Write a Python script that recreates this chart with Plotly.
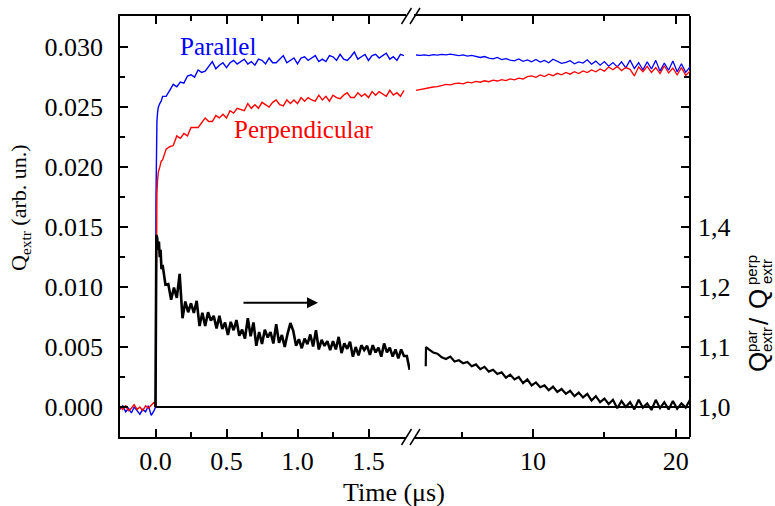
import plotly.graph_objects as go

# ---------------- data ----------------
# left (linear 0..1.8 us) segment
T_PRE = [-0.25, -0.23, -0.21, -0.19, -0.17, -0.15, -0.13, -0.11, -0.09, -0.07, -0.05, -0.03, -0.01]
BLUE_PRE = [-0.0002, 0.0001, -0.0004, -0.0001, -0.0005, 0.0000, -0.0003, -0.0006, -0.0002, -0.0004, 0.0001, -0.0007, -0.0003]
RED_PRE = [0.0000, -0.0002, 0.0001, -0.0003, -0.0001, 0.0002, -0.0002, 0.0000, -0.0003, 0.0001, -0.0001, 0.0002, 0.0004]

T_LEFT = [0.0, 0.003, 0.006, 0.01, 0.015, 0.02, 0.03, 0.04,
          0.05, 0.075, 0.1, 0.125, 0.15, 0.175, 0.2, 0.225, 0.25, 0.275,
          0.3, 0.325, 0.35, 0.375, 0.4, 0.425, 0.45, 0.475, 0.5, 0.525,
          0.55, 0.575, 0.6, 0.625, 0.65, 0.675, 0.7, 0.725, 0.75, 0.775,
          0.8, 0.825, 0.85, 0.875, 0.9, 0.925, 0.95, 0.975, 1.0, 1.025,
          1.05, 1.075, 1.1, 1.125, 1.15, 1.175, 1.2, 1.225, 1.25, 1.275,
          1.3, 1.325, 1.35, 1.375, 1.4, 1.425, 1.45, 1.475, 1.5, 1.525,
          1.55, 1.575, 1.6, 1.625, 1.65, 1.675, 1.7, 1.725, 1.75]

BLUE_LEFT = [0.0, 0.0170, 0.0225, 0.0238, 0.0246, 0.0250, 0.0253, 0.0255,
             0.0259, 0.0259, 0.0264, 0.0269, 0.0267, 0.0271, 0.0270, 0.0276, 0.0277, 0.0275,
             0.0281, 0.0279, 0.0280, 0.0284, 0.0288, 0.0282, 0.0285, 0.0287, 0.0283, 0.0287,
             0.0289, 0.0286, 0.0288, 0.0290, 0.0286, 0.0288, 0.0285, 0.0290, 0.0289, 0.0286,
             0.0291, 0.0287, 0.0287, 0.0290, 0.0293, 0.0287, 0.0289, 0.0291, 0.0286, 0.0291,
             0.0292, 0.0289, 0.0291, 0.0293, 0.0288, 0.0290, 0.0288, 0.0293, 0.0292, 0.0289,
             0.0294, 0.0290, 0.0289, 0.0292, 0.0296, 0.0290, 0.0292, 0.0294, 0.0289, 0.0293,
             0.0294, 0.0291, 0.0293, 0.0295, 0.0290, 0.0292, 0.0289, 0.0294, 0.0293]

RED_LEFT = [0.0, 0.0100, 0.0150, 0.0178, 0.0190, 0.0196, 0.0200, 0.0205,
            0.0206, 0.0215, 0.0217, 0.0218, 0.0226, 0.0224, 0.0228, 0.0226, 0.0233, 0.0233,
            0.0233, 0.0237, 0.0241, 0.0238, 0.0238, 0.0243, 0.0241, 0.0244, 0.0241, 0.0247,
            0.0245, 0.0249, 0.0248, 0.0247, 0.0253, 0.0249, 0.0252, 0.0249, 0.0254, 0.0252,
            0.0250, 0.0254, 0.0256, 0.0252, 0.0251, 0.0256, 0.0253, 0.0256, 0.0253, 0.0258,
            0.0255, 0.0258, 0.0256, 0.0255, 0.0260, 0.0256, 0.0259, 0.0255, 0.0260, 0.0258,
            0.0257, 0.0260, 0.0262, 0.0258, 0.0258, 0.0262, 0.0259, 0.0261, 0.0258, 0.0263,
            0.0260, 0.0263, 0.0261, 0.0259, 0.0264, 0.0260, 0.0262, 0.0259, 0.0264]

T_BLACK_LEFT = [0.0, 0.003, 0.006, 0.012, 0.018, 0.024, 0.03, 0.036, 0.042,
                0.05, 0.07, 0.09, 0.11, 0.13, 0.15, 0.17, 0.19, 0.21, 0.23,
                0.25, 0.27, 0.29, 0.31, 0.33, 0.35, 0.37, 0.39, 0.41, 0.43,
                0.45, 0.47, 0.49, 0.51, 0.53, 0.55, 0.57, 0.59, 0.61, 0.63,
                0.65, 0.67, 0.69, 0.71, 0.73, 0.75, 0.77, 0.79, 0.81, 0.83,
                0.85, 0.87, 0.89, 0.91, 0.93, 0.95, 0.97, 0.99, 1.01, 1.03,
                1.05, 1.07, 1.09, 1.11, 1.13, 1.15, 1.17, 1.19, 1.21, 1.23,
                1.25, 1.27, 1.29, 1.31, 1.33, 1.35, 1.37, 1.39, 1.41, 1.43,
                1.45, 1.47, 1.49, 1.51, 1.53, 1.55, 1.57, 1.59, 1.61, 1.63,
                1.65, 1.67, 1.69, 1.71, 1.73, 1.75, 1.77, 1.79]
BLACK_LEFT = [1.0, 1.15, 1.287, 1.282, 1.262, 1.276, 1.25, 1.262, 1.23,
              1.237, 1.204, 1.205, 1.179, 1.199, 1.182, 1.222, 1.148, 1.176, 1.158,
              1.173, 1.157, 1.177, 1.135, 1.157, 1.135, 1.158, 1.144, 1.152, 1.131,
              1.152, 1.130, 1.141, 1.120, 1.142, 1.128, 1.145, 1.119, 1.129, 1.114,
              1.148, 1.118, 1.141, 1.102, 1.125, 1.105, 1.129, 1.116, 1.125, 1.106,
              1.138, 1.107, 1.120, 1.100, 1.122, 1.140, 1.127, 1.102, 1.113, 1.098,
              1.114, 1.105, 1.121, 1.101, 1.128, 1.096, 1.112, 1.102, 1.110, 1.095,
              1.110, 1.096, 1.117, 1.090, 1.106, 1.097, 1.109, 1.084, 1.100, 1.086,
              1.103, 1.095, 1.102, 1.087, 1.103, 1.091, 1.099, 1.084, 1.106, 1.091,
              1.099, 1.084, 1.096, 1.081, 1.096, 1.085, 1.085, 1.062]

# right (linear 1.4..21 us) segment
T_RIGHT = [1.8, 2.1, 2.4, 2.7, 3.0, 3.3, 3.6, 3.9, 4.2, 4.5, 4.8, 5.1, 5.4, 5.7,
           6.0, 6.3, 6.6, 6.9, 7.2, 7.5, 7.8, 8.1, 8.4, 8.7, 9.0, 9.3, 9.6, 9.9,
           10.2, 10.5, 10.8, 11.1, 11.4, 11.7, 12.0, 12.3, 12.6, 12.9, 13.2, 13.5,
           13.8, 14.1, 14.4, 14.7, 15.0, 15.3, 15.6, 15.9, 16.2, 16.5, 16.8, 17.1,
           17.4, 17.7, 18.0, 18.3, 18.6, 18.9, 19.2, 19.5, 19.8, 20.1, 20.4, 20.7, 21.0]

BLUE_RIGHT = [0.02935, 0.02932, 0.02936, 0.02930, 0.02938, 0.02934, 0.02940, 0.02936, 0.02942, 0.02935,
              0.02930, 0.02936, 0.02926, 0.02932, 0.02920, 0.02914, 0.02922, 0.02908, 0.02902, 0.02914,
              0.02896, 0.02905, 0.02892, 0.02886, 0.02902, 0.02882, 0.02894, 0.02878, 0.02898, 0.02876,
              0.02890, 0.02870, 0.02900, 0.02880, 0.02866, 0.02874, 0.02888, 0.02862, 0.02878, 0.02868,
              0.02895, 0.02858, 0.02884, 0.02850, 0.02880, 0.02842, 0.02872, 0.02836, 0.02878, 0.02828,
              0.02892, 0.02822, 0.02870, 0.02812, 0.02878, 0.02818, 0.02890, 0.02800, 0.02868, 0.02808,
              0.02885, 0.02795, 0.02862, 0.02790, 0.02835]

RED_RIGHT = [0.02640, 0.02648, 0.02655, 0.02660, 0.02668, 0.02672, 0.02680, 0.02690, 0.02686, 0.02697,
             0.02700, 0.02694, 0.02708, 0.02702, 0.02715, 0.02708, 0.02720, 0.02712, 0.02725, 0.02718,
             0.02730, 0.02722, 0.02735, 0.02728, 0.02742, 0.02735, 0.02755, 0.02760, 0.02748, 0.02768,
             0.02755, 0.02775, 0.02762, 0.02782, 0.02770, 0.02790, 0.02775, 0.02796, 0.02780, 0.02802,
             0.02788, 0.02810, 0.02795, 0.02818, 0.02800, 0.02835, 0.02812, 0.02840, 0.02805, 0.02830,
             0.02815, 0.02760, 0.02835, 0.02795, 0.02840, 0.02790, 0.02830, 0.02780, 0.02845, 0.02785,
             0.02825, 0.02770, 0.02830, 0.02765, 0.02800]

T_BLACK_RIGHT = [2.48, 2.5] + T_RIGHT[3:]
BLACK_RIGHT = [1.068, 1.100, 1.096, 1.091, 1.089, 1.083, 1.080, 1.084, 1.076, 1.078,
               1.073, 1.075, 1.068, 1.071, 1.063, 1.067, 1.059, 1.062, 1.055, 1.058,
               1.049, 1.054, 1.046, 1.050, 1.040, 1.046, 1.036, 1.041, 1.033, 1.036,
               1.028, 1.034, 1.025, 1.030, 1.022, 1.027, 1.018, 1.024, 1.016, 1.022,
               1.011, 1.018, 1.008, 1.014, 1.005, 1.012, 0.998, 1.010, 1.000, 1.008,
               0.996, 1.012, 0.999, 1.006, 0.995, 1.012, 0.998, 1.008, 0.996, 1.010,
               0.997, 1.006, 0.999, 1.012]

RATIO_BASE = 1.0
T_BASE_LEFT = [0.0, 1.8]
T_BASE_RIGHT = [1.3, 21.0]

Y_LEFT_TICKS = [0.0, 0.005, 0.010, 0.015, 0.020, 0.025, 0.030]
Y_LEFT_LABELS = ["0.000", "0.005", "0.010", "0.015", "0.020", "0.025", "0.030"]
Y_RIGHT_TICKS = [1.0, 1.1, 1.2, 1.3, 1.4, 1.5, 1.6]
Y_RIGHT_LABELS = ["1,0", "1,1", "1,2", "1,4", "", "", ""]
X_LEFT_TICKS = [0.0, 0.5, 1.0, 1.5]
X_LEFT_LABELS = ["0.0", "0.5", "1.0", "1.5"]
X_RIGHT_TICKS = [10, 20]
X_RIGHT_LABELS = ["10", "20"]

# ---------------- figure ----------------
BLUE = "#0000ff"
RED = "#ff0000"
SERIF = "Liberation Serif"
SANS = "Liberation Sans"

L, R, T, B = 120, 85, 16, 69
W, H = 775, 506
PW, PH = W - L - R, H - T - B
SPLIT = (410 - L) / PW


def px(xp):
    return (xp - L) / PW


def py(yp):
    return (H - B - yp) / PH


fig = go.Figure()

# ratio (black) on right axis
fig.add_trace(go.Scatter(x=T_BASE_LEFT, y=[RATIO_BASE] * 2, xaxis="x", yaxis="y2",
                         mode="lines", line=dict(color="black", width=2), showlegend=False))
fig.add_trace(go.Scatter(x=T_BASE_RIGHT, y=[RATIO_BASE] * 2, xaxis="x2", yaxis="y2",
                         mode="lines", line=dict(color="black", width=2), showlegend=False))
fig.add_trace(go.Scatter(x=T_BLACK_LEFT, y=BLACK_LEFT, xaxis="x", yaxis="y2",
                         mode="lines", line=dict(color="black", width=2.6), showlegend=False))
fig.add_trace(go.Scatter(x=T_BLACK_RIGHT, y=BLACK_RIGHT, xaxis="x2", yaxis="y2",
                         mode="lines", line=dict(color="black", width=2.2), showlegend=False))

# Q curves on left axis
for tt, vals, col in [(T_PRE + T_LEFT, BLUE_PRE + BLUE_LEFT, BLUE),
                      (T_PRE + T_LEFT, RED_PRE + RED_LEFT, RED)]:
    fig.add_trace(go.Scatter(x=tt, y=vals, xaxis="x", yaxis="y", mode="lines",
                             line=dict(color=col, width=1.4), showlegend=False))
for vals, col in [(BLUE_RIGHT, BLUE), (RED_RIGHT, RED)]:
    fig.add_trace(go.Scatter(x=T_RIGHT, y=vals, xaxis="x2", yaxis="y", mode="lines",
                             line=dict(color=col, width=1.3), showlegend=False))

tickfont = dict(family=SERIF, size=26, color="black")
common = dict(showgrid=False, zeroline=False, showline=True, linecolor="black", linewidth=1.5,
              ticks="inside", ticklen=8, tickwidth=1.5, tickcolor="black", tickfont=tickfont)

fig.update_layout(
    width=W, height=H,
    margin=dict(l=L, r=R, t=T, b=B),
    paper_bgcolor="white", plot_bgcolor="white",
    xaxis=dict(domain=[0, SPLIT], range=[-0.25, -0.25 + (410 - L) / 142.0], anchor="y",
               tickmode="array", tickvals=X_LEFT_TICKS, ticktext=X_LEFT_LABELS, mirror="ticks",
               minor=dict(tickmode="array", tickvals=[0.25, 0.75, 1.25], ticks="inside",
                          ticklen=5, tickwidth=1.5, tickcolor="black"),
               **common),
    xaxis2=dict(domain=[SPLIT, 1], range=[5 - (461.7 - 410) / 14.27, 21.0], anchor="y",
                tickmode="array", tickvals=X_RIGHT_TICKS, ticktext=X_RIGHT_LABELS, mirror="ticks",
                minor=dict(tickmode="array", tickvals=[5, 15], ticks="inside",
                           ticklen=5, tickwidth=1.5, tickcolor="black"),
                **common),
    yaxis=dict(range=[-0.0025, 0.0326], anchor="x", tickmode="array",
               tickvals=Y_LEFT_TICKS, ticktext=Y_LEFT_LABELS, ticklabelstandoff=10,
               minor=dict(tickmode="array",
                          tickvals=[0.0025, 0.0075, 0.0125, 0.0175, 0.0225, 0.0275],
                          ticks="inside", ticklen=5, tickwidth=1.5, tickcolor="black"),
               **common),
    yaxis2=dict(range=[0.95, 1.652], overlaying="y", side="right", anchor="free", position=1.0,
                tickmode="array", tickvals=Y_RIGHT_TICKS, ticktext=Y_RIGHT_LABELS,
                ticklabelstandoff=2,
                minor=dict(tickmode="array",
                           tickvals=[1.05, 1.15, 1.25, 1.35, 1.45, 1.55],
                           ticks="inside", ticklen=5, tickwidth=1.5, tickcolor="black"),
                **common),
)

# axis break marks
shapes = []
for yy in (16, 437):
    shapes.append(dict(type="rect", xref="paper", yref="paper", x0=px(406), x1=px(414),
                       y0=py(yy + 2), y1=py(yy - 2), fillcolor="white", line=dict(width=0), layer="above"))
    for dx in (0, 8.5):
        shapes.append(dict(type="line", xref="paper", yref="paper",
                           x0=px(401.5 + dx), y0=py(yy + 8), x1=px(411.5 + dx), y1=py(yy - 8),
                           line=dict(color="black", width=1.5), layer="above"))
fig.update_layout(shapes=shapes)

ann = [
    dict(text="Parallel", x=px(218), y=py(46), font=dict(family=SERIF, size=25, color=BLUE)),
    dict(text="Perpendicular", x=px(304), y=py(129), font=dict(family=SERIF, size=25, color=RED)),
    dict(text="Time (μs)", x=px(394), y=py(492), font=dict(family=SERIF, size=26, color="black")),
    dict(text="Q<sub>extr</sub> (arb. un.)", x=px(20), y=py(208), textangle=-90,
         font=dict(family=SERIF, size=22, color="black")),
    # right title, stacked super/subscripts
    dict(text="Q", x=px(758), y=py(362), textangle=-90, font=dict(family=SANS, size=26, color="black")),
    dict(text="par", x=px(751), y=py(341), textangle=-90, font=dict(family=SANS, size=15, color="black")),
    dict(text="extr", x=px(766), y=py(340), textangle=-90, font=dict(family=SANS, size=15, color="black")),
    dict(text="/", x=px(759), y=py(321), textangle=-90, font=dict(family=SANS, size=26, color="black")),
    dict(text="Q", x=px(758), y=py(299), textangle=-90, font=dict(family=SANS, size=26, color="black")),
    dict(text="perp", x=px(751), y=py(270), textangle=-90, font=dict(family=SANS, size=15, color="black")),
    dict(text="extr", x=px(766), y=py(272), textangle=-90, font=dict(family=SANS, size=15, color="black")),
]
for a in ann:
    a.update(xref="paper", yref="paper", showarrow=False, xanchor="center", yanchor="middle")
ann.append(dict(text="", x=px(318), y=py(302.7), xref="paper", yref="paper", showarrow=True,
                ax=-76, ay=0, arrowhead=2, arrowsize=1.1, arrowwidth=2, arrowcolor="black"))
fig.update_layout(annotations=ann)

fig.write_html("out.html", config={"displayModeBar": False},
               post_script="document.body.style.margin='0';document.body.style.overflow='hidden';")
